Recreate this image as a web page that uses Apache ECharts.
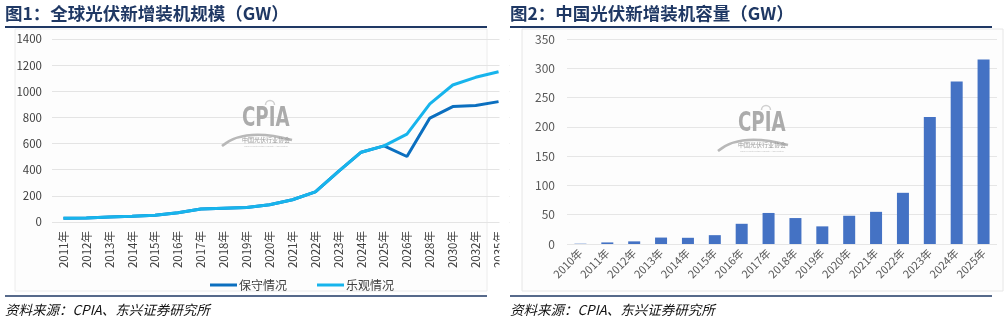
<!DOCTYPE html>
<html>
<head>
<meta charset="utf-8">
<script src="https://cdn.jsdelivr.net/npm/echarts@6/dist/echarts.min.js"></script>
<style>
html,body{margin:0;padding:0;background:#fff;}
#c{width:1008px;height:324px;}
</style>
</head>
<body>
<div id="c"></div>
<script>
// ---- data ----
const globalYears = ['2011年','2012年','2013年','2014年','2015年','2016年','2017年','2018年','2019年','2020年','2021年','2022年','2023年','2024年','2025年','2026年','2028年','2030年','2032年','2035年'];
const conservative = [28,30,38,44,51,70,99,105,111,132,170,230,386,534,582,501,795,883,891,921];
const optimistic   = [28,30,38,44,51,70,99,105,111,132,170,230,386,534,582,672,903,1048,1107,1150];
const globalYTicks = [0,1400,200];
const chinaYears = ['2010年','2011年','2012年','2013年','2014年','2015年','2016年','2017年','2018年','2019年','2020年','2021年','2022年','2023年','2024年','2025年'];
const chinaNew = [0.5,2.7,4.5,11,10.6,15.1,34.5,53,44.3,30.1,48.2,54.9,87.4,216.9,277.6,315];
const chinaYTicks = [0,350,50];
const titleLeft = '图1：全球光伏新增装机规模（GW）';
const titleRight = '图2：中国光伏新增装机容量（GW）';
const sourceText = '资料来源：CPIA、东兴证券研究所';

const NAVY = '#1f3864';
const FONT = '"Noto Sans CJK SC","Noto Sans",sans-serif';

function watermark(cx, cy) {
  const g = [];
  g.push({type:'text', x: cx-24, y: cy-14, scaleX:0.7, z:1,
          style:{text:'CPIA', fill:'#ababab', fontSize:26, fontWeight:'bold', fontFamily:'"DejaVu Sans","Liberation Sans",sans-serif'}});
  g.push({type:'arc', z:1, shape:{cx: cx+4, cy: cy-15, r:4.5, startAngle: Math.PI, endAngle: 2*Math.PI}, style:{stroke:'#d0d0d0', lineWidth:1.5, fill:null}});
  g.push({type:'bezierCurve', z:1, shape:{x1: cx-44, y1: cy+26, x2: cx+26, y2: cy+20, cpx1: cx-22, cpy1: cy+7}, style:{stroke:'#b8b8b8', lineWidth:2.5, fill:null}});
  g.push({type:'text', z:1, left: cx-24, top: cy+17, style:{text:'中国光伏行业协会', fill:'#9a9a9a', font:'6px "Noto Sans CJK SC",sans-serif'}});
  g.push({type:'text', z:1, left: cx-22, top: cy+25, style:{text:'China Photovoltaic Industry Association', fill:'#c0c0c0', font:'2.5px sans-serif'}});
  return g;
}

const chart = echarts.init(document.getElementById('c'), null, {renderer:'canvas'});
chart.setOption({
  backgroundColor:'#fff',
  animation:false,
  textStyle:{fontFamily:FONT},
  legend:{
    data:['保守情况','乐观情况'],
    left: 205, top: 274,
    icon:'rect', itemWidth:27, itemHeight:3, itemGap:30,
    textStyle:{fontSize:12, color:'#404040', fontFamily:FONT, padding:[0,0,0,-3]}
  },
  grid:[
    {left:52, top:39, width:458, height:183},
    {left:567, top:39, width:430, height:205}
  ],
  xAxis:[
    {type:'category', gridIndex:0, data:globalYears, boundaryGap:true,
     axisLine:{show:false}, axisTick:{show:false},
     axisLabel:{rotate:90, fontSize:11.5, color:'#404040', margin:9, interval:0, fontFamily:FONT}},
    {type:'category', gridIndex:1, data:chinaYears, boundaryGap:true,
     axisLine:{show:false}, axisTick:{show:false},
     axisLabel:{rotate:45, fontSize:11, color:'#595959', margin:7, interval:0, fontFamily:FONT}}
  ],
  yAxis:[
    {type:'value', gridIndex:0, min:globalYTicks[0], max:globalYTicks[1], interval:globalYTicks[2],
     axisLine:{show:false}, axisTick:{show:false},
     axisLabel:{fontSize:11.5, color:'#404040', margin:10, fontFamily:FONT, formatter:v=>String(v)},
     splitLine:{lineStyle:{color:'#e4e4e4', width:1}}},
    {type:'value', gridIndex:1, min:chinaYTicks[0], max:chinaYTicks[1], interval:chinaYTicks[2],
     axisLine:{show:false}, axisTick:{show:false},
     axisLabel:{fontSize:12, color:'#595959', margin:12, fontFamily:FONT, formatter:v=>String(v)},
     splitLine:{lineStyle:{color:'#e6e6e6', width:1}}}
  ],
  series:[
    {name:'保守情况', type:'line', xAxisIndex:0, yAxisIndex:0, data:conservative,
     showSymbol:false, symbol:'none', lineStyle:{color:'#0b6fbf', width:3}, itemStyle:{color:'#0b6fbf'}, z:3},
    {name:'乐观情况', type:'line', xAxisIndex:0, yAxisIndex:0, data:optimistic,
     showSymbol:false, symbol:'none', lineStyle:{color:'#17b4ec', width:3}, itemStyle:{color:'#17b4ec'}, z:4},
    {name:'中国新增', type:'bar', xAxisIndex:1, yAxisIndex:1, data:chinaNew,
     barWidth:12, itemStyle:{color:'#4472c4'}, z:3}
  ],
  graphic:[
    {type:'rect', z:0, shape:{x:15, y:29, width:472, height:262}, style:{fill:'#fdfdfd', stroke:'#ececec', lineWidth:1}},
    {type:'rect', z:0, shape:{x:522, y:29, width:481, height:262}, style:{fill:'#fdfdfd', stroke:'#e6e6e6', lineWidth:1}},
    {type:'rect', z:100, shape:{x:499.5, y:28, width:10, height:268}, style:{fill:'#ffffff'}},
    {type:'text', z:101, left:5, top:5, style:{text:titleLeft, fill:NAVY, font:'bold 17.5px '+FONT}},
    {type:'text', z:101, left:510, top:5, style:{text:titleRight, fill:NAVY, font:'bold 17.5px '+FONT}},
    {type:'line', z:101, shape:{x1:5, y1:27, x2:487, y2:27}, style:{stroke:NAVY, lineWidth:2}},
    {type:'line', z:101, shape:{x1:510, y1:27, x2:992, y2:27}, style:{stroke:NAVY, lineWidth:2}},
    {type:'line', z:101, shape:{x1:5, y1:296, x2:487, y2:296}, style:{stroke:NAVY, lineWidth:1.5}},
    {type:'line', z:101, shape:{x1:510, y1:296, x2:992, y2:296}, style:{stroke:NAVY, lineWidth:1.5}},
    {type:'text', z:101, left:5, top:303, style:{text:sourceText, fill:'#111', font:'italic 13.5px '+FONT}},
    {type:'text', z:101, left:510, top:303, style:{text:sourceText, fill:'#111', font:'italic 13.5px '+FONT}},
    ...watermark(266, 120),
    ...watermark(762, 125)
  ]
});
</script>
</body>
</html>
